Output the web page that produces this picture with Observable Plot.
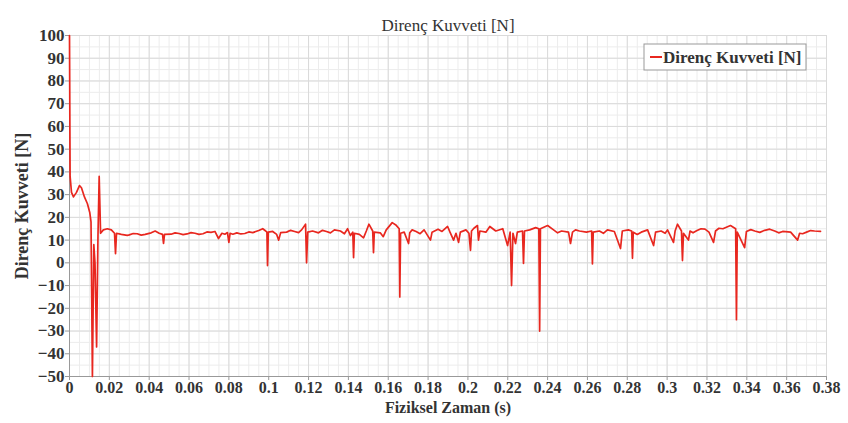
<!DOCTYPE html>
<html><head><meta charset="utf-8">
<script src="https://cdn.jsdelivr.net/npm/d3@7"></script>
<script src="https://cdn.jsdelivr.net/npm/@observablehq/plot@0.6"></script>
<style>body{margin:0;background:#fff} #c{width:848px;height:423px}</style>
</head><body><div id="c"></div>
<script>
const chartTitle = "Direnç Kuvveti [N]";
const xLabel = "Fiziksel Zaman (s)";
const yLabel = "Direnç Kuvveti [N]";
const seriesName = "Direnç Kuvveti [N]";

const time = [
  0,0.0003,0.001,0.002,0.0035,0.005,0.006,0.0075,0.009,0.0102,
  0.0108,0.0115,0.0122,0.0128,0.0136,0.0143,0.0149,0.0156,0.017,0.019,
  0.021,0.0226,0.0231,0.0236,0.026,0.029,0.03,0.032,0.034,0.036,
  0.038,0.041,0.043,0.045,0.0467,0.0472,0.0477,0.051,0.053,0.055,
  0.057,0.059,0.061,0.063,0.065,0.067,0.069,0.071,0.073,0.0748,
  0.0765,0.078,0.0793,0.080,0.0806,0.082,0.084,0.086,0.088,0.090,
  0.092,0.095,0.097,0.0985,0.0991,0.0994,0.0998,0.102,0.104,0.105,
  0.106,0.109,0.111,0.113,0.115,0.1165,0.1185,0.119,0.1196,0.122,
  0.125,0.127,0.129,0.131,0.133,0.136,0.138,0.1396,0.141,0.1422,
  0.1426,0.143,0.1455,0.1476,0.149,0.1503,0.1522,0.1526,0.153,0.156,
  0.1575,0.159,0.162,0.164,0.1655,0.1658,0.1662,0.168,0.1702,0.1708,
  0.172,0.174,0.176,0.178,0.1812,0.182,0.185,0.187,0.1898,0.191,
  0.1928,0.194,0.1953,0.1962,0.199,0.2005,0.2013,0.2018,0.203,0.2048,
  0.2053,0.206,0.209,0.211,0.214,0.2175,0.2199,0.2212,0.2219,0.2226,
  0.2239,0.2248,0.2274,0.2279,0.2284,0.231,0.234,0.2356,0.236,0.2364,
  0.24,0.243,0.245,0.247,0.2505,0.2515,0.2525,0.254,0.256,0.2595,
  0.2621,0.2625,0.2629,0.266,0.268,0.27,0.2735,0.2766,0.2775,0.2805,
  0.2822,0.2826,0.283,0.285,0.287,0.2902,0.2932,0.2942,0.297,0.299,
  0.3002,0.3032,0.304,0.3052,0.3072,0.3077,0.3082,0.3107,0.3115,0.313,
  0.315,0.317,0.319,0.321,0.3233,0.3243,0.326,0.328,0.3318,0.3344,
  0.3348,0.3352,0.3389,0.3398,0.342,0.344,0.3465,0.349,0.3515,0.354,
  0.356,0.358,0.362,0.3655,0.3665,0.368,0.370,0.372,0.374,0.377
];
const force = [
  100,38,31,29,31,34,33,29,26,22,
  18,-50,8,0,-37,12,38,13,14.5,15,
  14.5,13,4,13,12.5,12.1,12.3,12.9,12.8,12.2,
  12.5,13.2,14,13,12.5,8.5,12.5,12.6,13.2,12.9,
  12.4,12.7,13.3,13,12.5,12.8,13.6,13.4,13.8,10.7,
  13,12.6,13.3,9,13,12.6,13.2,12.7,12.9,13.6,
  13.3,14.2,15,14,13.5,-1.2,13.5,13.8,12.5,10,
  13.3,13.5,14.3,13.8,13.3,14.5,17,0,13.5,14,
  13.2,14.3,13.8,13.2,14.5,14,12.8,15,12,13.5,
  2.3,13,12.5,11,14,17,14,4.5,13.5,13.2,
  11.5,14.5,17.7,16.5,15,-15,13,13.5,8.5,13.2,
  14.5,13.8,12.8,14.5,10,13.5,14.8,13.8,16,13.5,
  10,13,9,13.5,14.5,13,5.5,14,15.2,16.4,
  10,14,13.5,16,14,15,7.6,13.5,-10,13,
  8.5,13.5,14,-0.3,14,14.5,15.5,15,-30,15,
  16.4,14.5,13.2,14,13.5,8.5,13.5,14.5,14,13.5,
  14,-0.5,13.5,14,13,14.5,13.8,6.3,14,14.5,
  14,2,13.5,12.5,13.5,14.5,7.6,13.5,14,13,
  14.5,9,14,17,14,1,13,10,14,13.2,
  14.2,15,14.8,13.5,9,14,15.2,15,16.4,15,
  -25,13.5,6.7,13.8,14.6,14,13.4,14.3,14.8,14,
  13.2,13.8,13.5,10,13,12.8,13.5,14.2,14,13.8
];

const xTicks = [0,0.02,0.04,0.06,0.08,0.1,0.12,0.14,0.16,0.18,0.2,0.22,0.24,0.26,0.28,0.3,0.32,0.34,0.36,0.38];
const yTicks = [-50,-40,-30,-20,-10,0,10,20,30,40,50,60,70,80,90,100];

const data = time.map((t, i) => ({t, v: force[i]}));
const minorX = d3.range(0, 77).map(i => i * 0.005).filter(v => v <= 0.3800001);
const minorY = d3.range(-50, 101, 5);
const serif = "'Liberation Serif', 'DejaVu Serif', serif";
const red = "#e8271f";

const plot = Plot.plot({
  width: 848, height: 423,
  marginLeft: 69, marginRight: 22, marginTop: 35, marginBottom: 47,
  style: {fontFamily: serif, fontSize: "14px", background: "#fff", color: "#222"},
  x: {domain: [0, 0.38]},
  y: {domain: [-50, 100]},
  marks: [
    Plot.gridX(minorX, {stroke: "#ececec", strokeOpacity: 1}),
    Plot.gridY(minorY, {stroke: "#ececec", strokeOpacity: 1}),
    Plot.gridX(xTicks, {stroke: "#dadada", strokeOpacity: 1}),
    Plot.gridY(yTicks, {stroke: "#dadada", strokeOpacity: 1}),
    Plot.ruleX([0], {stroke: "#999"}),
    Plot.ruleY([-50], {stroke: "#999"}),
    Plot.axisX(xTicks, {tickSize: 4, stroke: "#999", tickPadding: 1, fontWeight: "bold", fontSize: 16, fill: "#333",
      tickFormat: d => String(+d.toFixed(2)), label: null}),
    Plot.axisY(yTicks, {tickSize: 4, stroke: "#999", tickPadding: 1, fontWeight: "bold", fontSize: 17, fill: "#333", label: null}),
    Plot.line(data, {x: "t", y: "v", stroke: red, strokeWidth: 1.7}),
    Plot.text([chartTitle], {frameAnchor: "top", dy: -17, fontSize: 17, fill: "#333", textAnchor: "middle"}),
    Plot.text([xLabel], {frameAnchor: "bottom", dy: 36, fontSize: 16, fontWeight: "bold", fill: "#333", textAnchor: "middle"}),
    Plot.text([yLabel], {frameAnchor: "left", dx: -47, rotate: -90, fontSize: 18, fontWeight: "bold", fill: "#333", textAnchor: "middle"})
  ]
});

const svg = d3.select(plot);
const lg = svg.append("g");
lg.append("rect").attr("x", 644).attr("y", 44).attr("width", 162).attr("height", 26)
  .attr("fill", "#fff").attr("stroke", "#999");
lg.append("line").attr("x1", 650).attr("x2", 662).attr("y1", 57).attr("y2", 57)
  .attr("stroke", red).attr("stroke-width", 2);
lg.append("text").attr("x", 663).attr("y", 63).text(seriesName)
  .attr("text-anchor", "start")
  .attr("font-family", serif).attr("font-size", 17).attr("font-weight", "bold").attr("fill", "#333");

document.getElementById("c").appendChild(plot);
</script>
</body></html>
